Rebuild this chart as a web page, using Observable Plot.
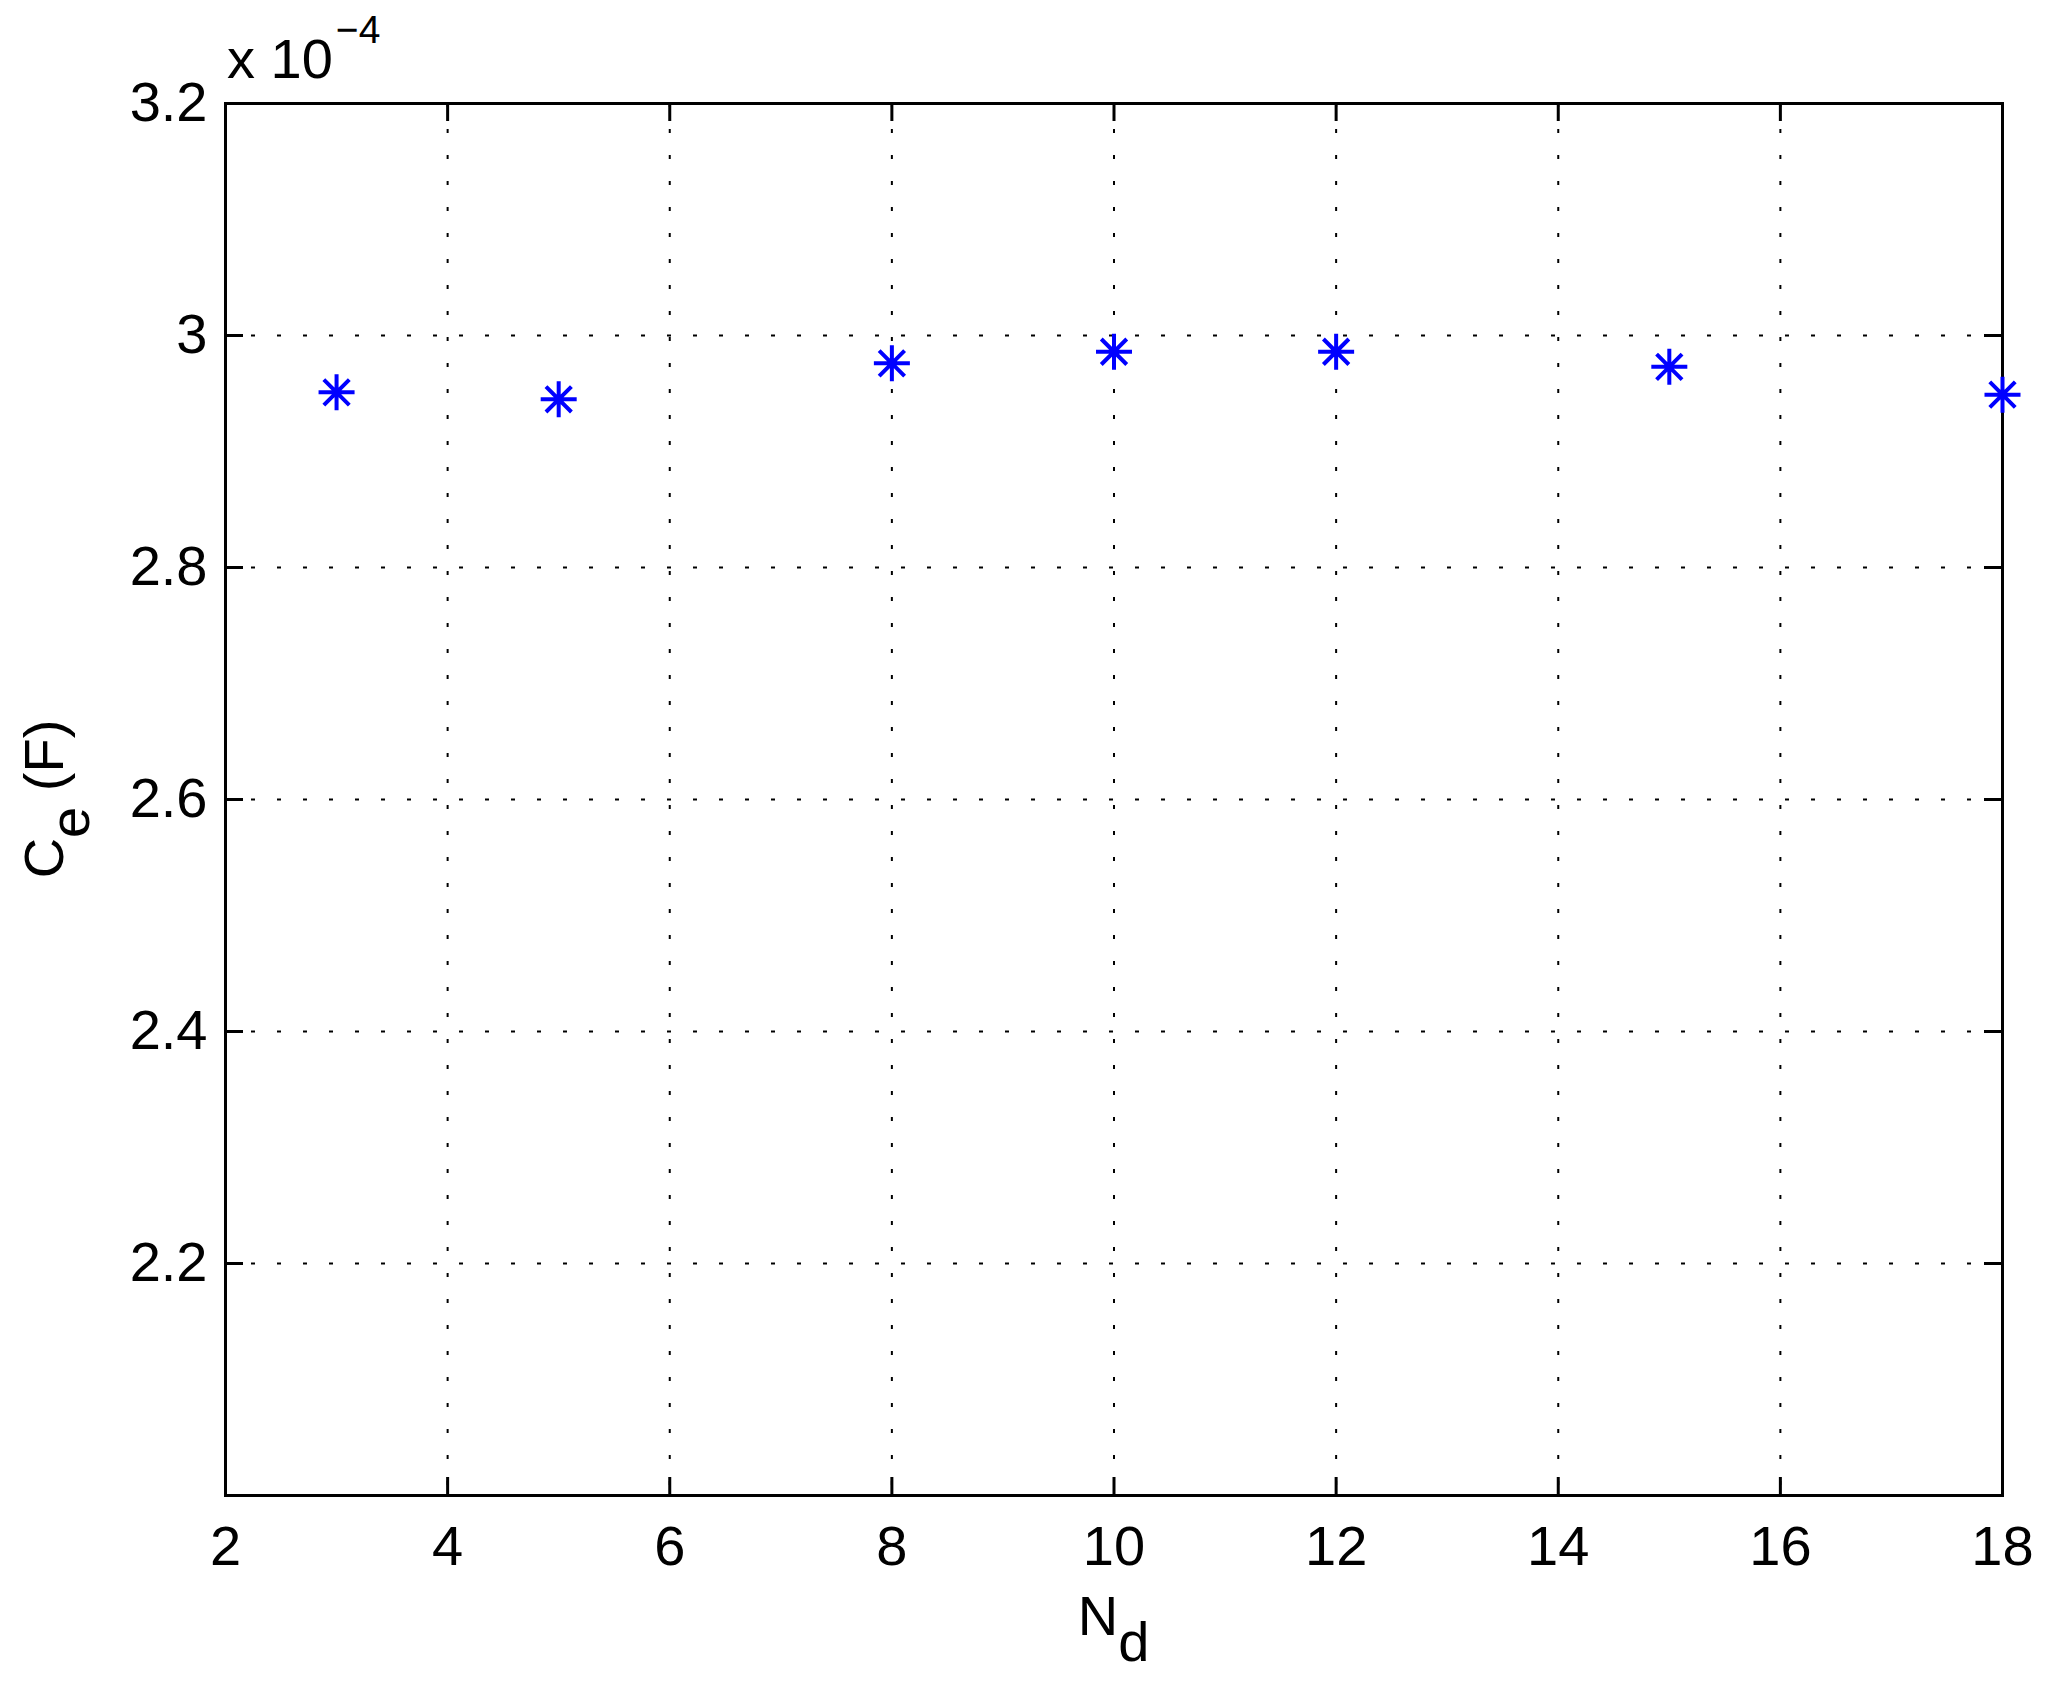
<!DOCTYPE html>
<html>
<head>
<meta charset="utf-8">
<script src="https://cdn.jsdelivr.net/npm/d3@7"></script>
<script src="https://cdn.jsdelivr.net/npm/@observablehq/plot@0.6"></script>
<style>
  html, body { margin: 0; padding: 0; background: #ffffff; }
  #chart { width: 2048px; height: 1684px; }
</style>
</head>
<body>
<div id="chart"></div>
<script>
// Number of dielectric layers N_d and equivalent capacitance C_e (units of 1e-4 F)
const nd = [3, 5, 8, 10, 12, 15, 18];
const ce = [2.951, 2.945, 2.976, 2.986, 2.986, 2.973, 2.949];
const xTicks = [2, 4, 6, 8, 10, 12, 14, 16, 18];
const yTicks = [2.2, 2.4, 2.6, 2.8, 3.0, 3.2];
const yTickLabels = ["2.2", "2.4", "2.6", "2.8", "3", "3.2"];
const xDomain = [2, 18];
const yDomain = [2.0, 3.2];

const W = 2048, H = 1684;
const mL = 225, mR = 46, mT = 103, mB = 189;
const frameH = H - mT - mB;
const frameW = W - mL - mR;
const tickLen = 18;

const data = nd.map((n, i) => ({nd: n, ce: ce[i]}));

// MATLAB-style 8-arm asterisk marker
const asterisk8 = {
  draw(ctx, size) {
    const r = Math.sqrt(size / Math.PI);
    const d = r * Math.SQRT1_2;
    ctx.moveTo(-r, 0); ctx.lineTo(r, 0);
    ctx.moveTo(0, -r); ctx.lineTo(0, r);
    ctx.moveTo(-d, -d); ctx.lineTo(d, d);
    ctx.moveTo(-d, d); ctx.lineTo(d, -d);
  }
};

const gridX = xTicks.filter(v => v > xDomain[0] && v < xDomain[1]);
const gridY = yTicks.filter(v => v > yDomain[0] && v < yDomain[1]);

const plot = Plot.plot({
  width: W,
  height: H,
  marginLeft: mL,
  marginRight: mR,
  marginTop: mT,
  marginBottom: mB,
  style: {fontFamily: "'Liberation Sans', Arial, Helvetica, sans-serif", fontSize: "56px", color: "black", background: "white"},
  x: {domain: xDomain},
  y: {domain: yDomain},
  marks: [
    Plot.ruleX(gridX, {x: d => d, stroke: "black", strokeWidth: 2, strokeDasharray: "4,22"}),
    Plot.ruleY(gridY, {y: d => d, stroke: "black", strokeWidth: 2, strokeDasharray: "4,22"}),
    // inward ticks: bottom, top, left, right
    Plot.tickX(xTicks, {x: d => d, insetTop: frameH - tickLen, stroke: "black", strokeWidth: 3}),
    Plot.tickX(xTicks, {x: d => d, insetBottom: frameH - tickLen, stroke: "black", strokeWidth: 3}),
    Plot.tickY(yTicks, {y: d => d, insetRight: frameW - tickLen, stroke: "black", strokeWidth: 3}),
    Plot.tickY(yTicks, {y: d => d, insetLeft: frameW - tickLen, stroke: "black", strokeWidth: 3}),
    Plot.frame({stroke: "black", strokeWidth: 3}),
    Plot.axisX({ticks: xTicks, tickSize: 0, tickPadding: 30, fontSize: 56, label: null, tickFormat: d => String(d)}),
    Plot.axisY({ticks: yTicks, tickSize: 0, tickPadding: 18, fontSize: 56, label: null,
      tickFormat: d => yTickLabels[yTicks.findIndex(t => Math.abs(t - d) < 1e-9)]}),
    Plot.dot(data, {x: "nd", y: "ce", symbol: asterisk8, r: 18, stroke: "#0000ff", strokeWidth: 4, fill: "none"})
  ]
});

const svg = d3.select(plot);
const font = "'Liberation Sans', Arial, Helvetica, sans-serif";

// Exponent label above the y axis
const ex = svg.append("text")
  .attr("x", 227).attr("y", 78)
  .attr("text-anchor", "start")
  .attr("font-family", font).attr("font-size", 56).attr("fill", "black");
ex.append("tspan").text("x 10");
ex.append("tspan").attr("font-size", 39).attr("dy", -35).attr("dx", 3).text("\u22124");

// X axis label N_d
const xl = svg.append("text")
  .attr("x", mL + frameW / 2).attr("y", 1635)
  .attr("text-anchor", "middle")
  .attr("font-family", font).attr("font-size", 56).attr("fill", "black");
xl.append("tspan").text("N");
xl.append("tspan").attr("dy", 26).text("d");

// Y axis label C_e (F)
const yl = svg.append("text")
  .attr("transform", `translate(63, ${mT + frameH / 2}) rotate(-90)`)
  .attr("text-anchor", "middle")
  .attr("font-family", font).attr("font-size", 56).attr("fill", "black");
yl.append("tspan").text("C");
yl.append("tspan").attr("dy", 26).text("e");
yl.append("tspan").attr("dy", -26).text(" (F)");

document.getElementById("chart").appendChild(plot);
</script>
</body>
</html>
